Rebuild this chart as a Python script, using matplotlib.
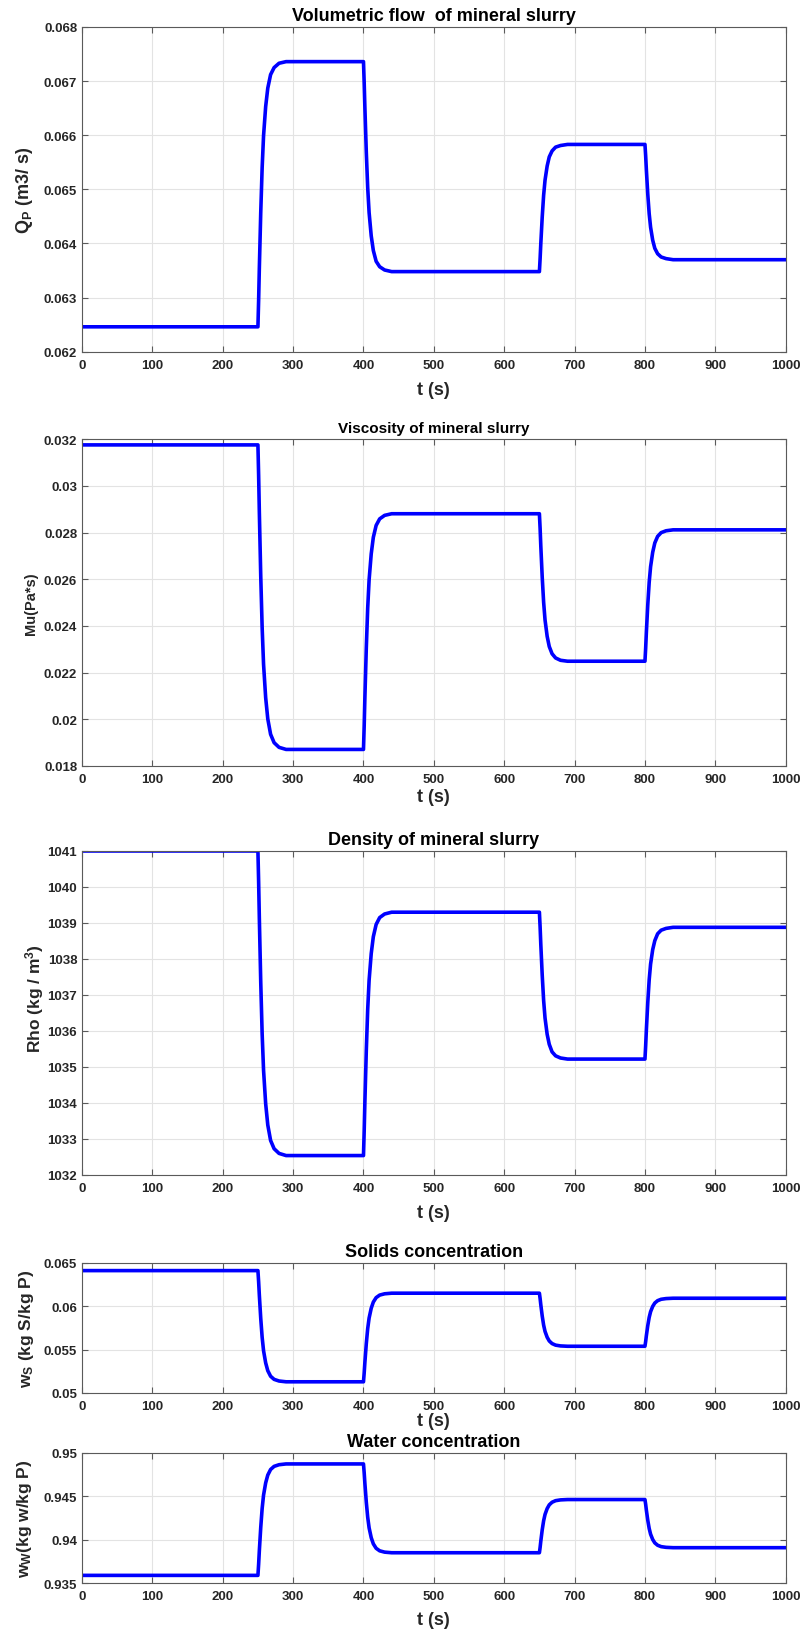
import numpy as np
import matplotlib
matplotlib.use("Agg")
import matplotlib.pyplot as plt
from matplotlib.ticker import FuncFormatter

plt.rcParams['font.family'] = ['Liberation Sans', 'DejaVu Sans']
plt.rcParams['font.weight'] = 'bold'
plt.rcParams['mathtext.fontset'] = 'custom'
plt.rcParams['mathtext.rm'] = 'Liberation Sans:bold'
plt.rcParams['mathtext.bf'] = 'Liberation Sans:bold'
plt.rcParams['mathtext.it'] = 'Liberation Sans:bold'

# simulation time (s): steps at 250, 400, 650 and 800 s
t = [0,
     250, 251, 252, 254, 256, 258, 261, 264, 268, 273, 280, 290,
     400, 401, 402, 404, 406, 408, 411, 414, 418, 423, 430, 440,
     650, 651, 652, 654, 656, 658, 661, 664, 668, 673, 680, 690,
     800, 801, 802, 804, 806, 808, 811, 814, 818, 823, 830, 840,
     1000]

# volumetric flow of slurry (m3/s)
q_p = [0.06246,
       0.06246, 0.06295, 0.06354, 0.06457, 0.06540, 0.06599, 0.06653, 0.06687, 0.06712, 0.06725, 0.06733, 0.06736,
       0.06736, 0.06697, 0.06651, 0.06569, 0.06503, 0.06457, 0.06414, 0.06387, 0.06367, 0.06357, 0.06351, 0.06348,
       0.06348, 0.06372, 0.06400, 0.06449, 0.06489, 0.06517, 0.06543, 0.06560, 0.06571, 0.06578, 0.06581, 0.06583,
       0.06583, 0.06562, 0.06536, 0.06491, 0.06455, 0.06430, 0.06406, 0.06391, 0.06381, 0.06375, 0.06372, 0.06370,
       0.06370]

# viscosity (Pa*s)
mu = [0.03176,
      0.03176, 0.03046, 0.02889, 0.02615, 0.02393, 0.02236, 0.02093, 0.02002, 0.01936, 0.01900, 0.01880, 0.01871,
      0.01871, 0.01972, 0.02093, 0.02305, 0.02477, 0.02598, 0.02709, 0.02780, 0.02831, 0.02859, 0.02874, 0.02881,
      0.02881, 0.02818, 0.02742, 0.02609, 0.02502, 0.02426, 0.02356, 0.02312, 0.02281, 0.02263, 0.02253, 0.02249,
      0.02249, 0.02305, 0.02373, 0.02491, 0.02587, 0.02654, 0.02716, 0.02756, 0.02784, 0.02800, 0.02808, 0.02812,
      0.02812]

# density (kg/m3)
rho = [1041.00,
       1041.00, 1040.15, 1039.14, 1037.36, 1035.92, 1034.91, 1033.98, 1033.39, 1032.96, 1032.73, 1032.60, 1032.54,
       1032.54, 1033.22, 1034.03, 1035.45, 1036.60, 1037.41, 1038.15, 1038.62, 1038.96, 1039.15, 1039.25, 1039.30,
       1039.30, 1038.89, 1038.40, 1037.55, 1036.85, 1036.36, 1035.91, 1035.63, 1035.42, 1035.31, 1035.25, 1035.22,
       1035.22, 1035.59, 1036.03, 1036.79, 1037.42, 1037.86, 1038.26, 1038.51, 1038.70, 1038.80, 1038.85, 1038.88,
       1038.88]

# solids mass fraction
w_s = [0.06409,
       0.06409, 0.06281, 0.06127, 0.05859, 0.05641, 0.05487, 0.05347, 0.05257, 0.05193, 0.05157, 0.05138, 0.05129,
       0.05129, 0.05231, 0.05353, 0.05568, 0.05741, 0.05863, 0.05976, 0.06047, 0.06098, 0.06127, 0.06142, 0.06149,
       0.06149, 0.06088, 0.06015, 0.05886, 0.05782, 0.05709, 0.05642, 0.05599, 0.05569, 0.05551, 0.05542, 0.05538,
       0.05538, 0.05593, 0.05660, 0.05776, 0.05870, 0.05936, 0.05997, 0.06036, 0.06063, 0.06079, 0.06087, 0.06091,
       0.06091]

# water mass fraction
w_w = [0.93591,
       0.93591, 0.93719, 0.93873, 0.94141, 0.94359, 0.94513, 0.94653, 0.94743, 0.94807, 0.94843, 0.94862, 0.94871,
       0.94871, 0.94769, 0.94647, 0.94432, 0.94259, 0.94137, 0.94024, 0.93953, 0.93902, 0.93873, 0.93858, 0.93851,
       0.93851, 0.93912, 0.93985, 0.94114, 0.94218, 0.94291, 0.94358, 0.94401, 0.94431, 0.94449, 0.94458, 0.94462,
       0.94462, 0.94407, 0.94340, 0.94224, 0.94130, 0.94064, 0.94003, 0.93964, 0.93937, 0.93921, 0.93913, 0.93909,
       0.93909]

x_ticks = list(range(0, 1001, 100))

W, H = 804, 1633
fig = plt.figure(figsize=(W / 100, H / 100), dpi=100)

left, right = 82, 785.7
# (top px, bottom px) for every panel
boxes = [(28, 352.7), (440.3, 767), (852, 1176), (1263.7, 1394), (1453.7, 1584.3)]

panels = [
    dict(y=q_p, title='Volumetric flow  of mineral slurry', tsize=13,
         ylabel=r'Q$_{\mathbf{P}}$ (m3/ s)', ysize=13, ylim=(0.062, 0.068),
         yticks=np.arange(0.062, 0.06801, 0.001), lx=25, ly=0.5, xl=38),
    dict(y=mu, title='Viscosity of mineral slurry', tsize=11,
         ylabel='Mu(Pa*s)', ysize=10.5, ylim=(0.018, 0.032),
         yticks=np.arange(0.018, 0.03201, 0.002), lx=31, ly=0.5, xl=31),
    dict(y=rho, title='Density of mineral slurry', tsize=13,
         ylabel=r'Rho (kg / m$^{\mathbf{3}}$)', ysize=12.5, ylim=(1032, 1041),
         yticks=np.arange(1032, 1041.5, 1), lx=35, ly=0.549, xl=38),
    dict(y=w_s, title='Solids concentration', tsize=13,
         ylabel=r'w$_{\mathbf{S}}$ (kg S/kg P)', ysize=12.5, ylim=(0.05, 0.065),
         yticks=np.arange(0.05, 0.06501, 0.005), lx=26, ly=0.5, xl=28),
    dict(y=w_w, title='Water concentration', tsize=13,
         ylabel=r'w$_{\mathbf{W}}$(kg w/kg P)', ysize=12.5, ylim=(0.935, 0.95),
         yticks=np.arange(0.935, 0.95001, 0.005), lx=25, ly=0.5, xl=36),
]

fmt = FuncFormatter(lambda v, pos: '%g' % round(v, 6))

for (top, bot), p in zip(boxes, panels):
    ax = fig.add_axes([left / W, 1 - bot / H, (right - left) / W, (bot - top) / H])
    ax.plot(t, p['y'], color='#0000ff', lw=2.6, solid_joinstyle='round')
    ax.set_xlim(0, 1000)
    ax.set_ylim(*p['ylim'])
    ax.set_xticks(x_ticks)
    ax.set_yticks(p['yticks'])
    ax.yaxis.set_major_formatter(fmt)
    ax.grid(True, color='#e3e3e3', lw=0.8)
    ax.set_axisbelow(True)
    ax.tick_params(direction='in', top=True, right=True, length=4, width=0.8,
                   color='#5a5a5a', labelsize=9.5, labelcolor='#262626')
    ax.tick_params(axis='x', pad=5)
    ax.tick_params(axis='y', pad=3.5)
    for lab in ax.get_xticklabels() + ax.get_yticklabels():
        lab.set_fontweight('bold')
    for s in ax.spines.values():
        s.set_color('#5a5a5a')
        s.set_linewidth(0.8)
    ax.set_title(p['title'], fontsize=p['tsize'], fontweight='bold', pad=5)
    ax.set_ylabel(p['ylabel'], fontsize=p['ysize'], fontweight='bold',
                  color='#262626', va='center')
    ax.yaxis.set_label_coords((p['lx'] - left) / (right - left), p['ly'])
    ax.set_xlabel('t (s)', fontsize=13, fontweight='bold', color='#262626', va='center')
    ax.xaxis.set_label_coords(0.5, -p['xl'] / (bot - top))

fig.savefig('out.png', dpi=100)
